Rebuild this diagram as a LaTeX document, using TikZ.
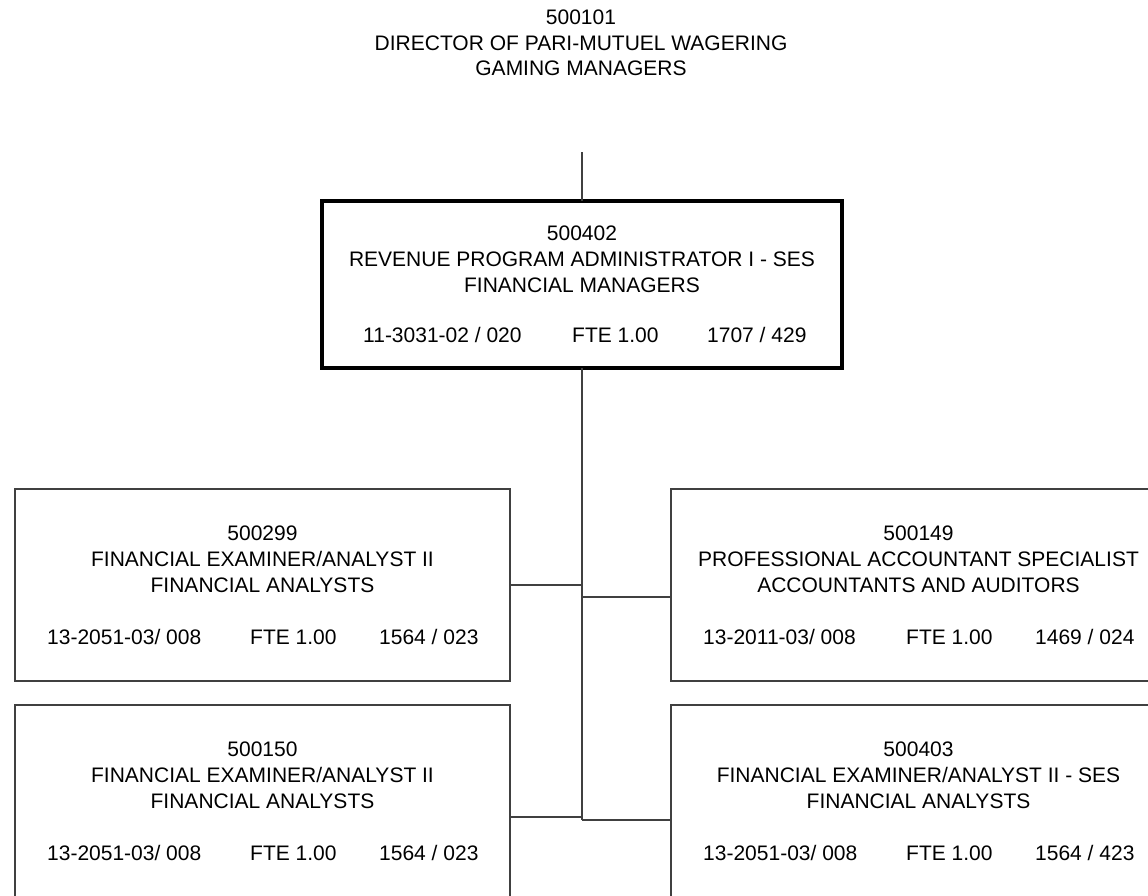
\documentclass[tikz,border=0pt]{standalone}
\usepackage{fontspec}
\setmainfont{Liberation Sans}
\usetikzlibrary{calc}
\tikzset{
  link/.style={draw=black!75, line width=1.3pt},
  posbox/.style={draw=black!75, line width=1.6pt, rectangle, inner sep=0pt, outer sep=0pt, anchor=north west},
  headbox/.style={draw=black, line width=3.5pt, rectangle, inner sep=0pt, outer sep=0pt, anchor=north west},
  txt/.style={font=\fontsize{21}{26}\selectfont, anchor=base, inner sep=0pt},
  tab/.style={txt, anchor=base west},
}
% texts of one subordinate position box
\newcommand\staffinfo[7]{%
  \node[txt] (#1-id) at ($(#1.north)+(0,51.5)$) {#2};
  \node[txt] (#1-title) at ($(#1.north)+(0,77.5)$) {#3};
  \node[txt] (#1-class) at ($(#1.north)+(0,103.5)$) {#4};
  \node[tab] (#1-code) at ($(#1.north west)+(32,155.5)$) {#5};
  \node[tab] (#1-fte) at ($(#1.north west)+(235,155.5)$) {#6};
  \node[tab] (#1-pay) at ($(#1.north west)+(364,155.5)$) {#7};
}
\begin{document}
\begin{tikzpicture}[x=1pt,y=-1pt]
\useasboundingbox (0,0) rectangle (1148,895);
\clip (0,0) rectangle (1148,895);
\fill[white] (0,0) rectangle (1148,895);

% supervisor heading
\node[txt] (sup-id) at (581,24.5) {500101};
\node[txt] (sup-title) at (581,50.5) {DIRECTOR OF PARI-MUTUEL WAGERING};
\node[txt] (sup-class) at (581,75.5) {GAMING MANAGERS};
\coordinate (up) at (582,152);

% head position
\node[headbox, minimum width=520pt, minimum height=167pt] (p402) at (322,201) {};
\node[txt] (p402-id) at ($(p402.north)+(0,39.5)$) {500402};
\node[txt] (p402-title) at ($(p402.north)+(0,65.5)$) {REVENUE PROGRAM ADMINISTRATOR I - SES};
\node[txt] (p402-class) at ($(p402.north)+(0,91.5)$) {FINANCIAL MANAGERS};
\node[tab] (p402-code) at ($(p402.north west)+(41,141.5)$) {11-3031-02 / 020};
\node[tab] (p402-fte) at ($(p402.north west)+(250,141.5)$) {FTE 1.00};
\node[tab] (p402-pay) at ($(p402.north west)+(385,141.5)$) {1707 / 429};

% subordinate positions
\node[posbox, minimum width=495pt, minimum height=192pt] (p299) at (15,489) {};
\staffinfo{p299}{500299}{FINANCIAL EXAMINER/ANALYST II}{FINANCIAL ANALYSTS}{13-2051-03/ 008}{FTE 1.00}{1564 / 023}

\node[posbox, minimum width=495pt, minimum height=192pt] (p149) at (671,489) {};
\staffinfo{p149}{500149}{PROFESSIONAL ACCOUNTANT SPECIALIST}{ACCOUNTANTS AND AUDITORS}{13-2011-03/ 008}{FTE 1.00}{1469 / 024}

\node[posbox, minimum width=495pt, minimum height=192pt] (p150) at (15,705) {};
\staffinfo{p150}{500150}{FINANCIAL EXAMINER/ANALYST II}{FINANCIAL ANALYSTS}{13-2051-03/ 008}{FTE 1.00}{1564 / 023}

\node[posbox, minimum width=495pt, minimum height=192pt] (p403) at (671,705) {};
\staffinfo{p403}{500403}{FINANCIAL EXAMINER/ANALYST II - SES}{FINANCIAL ANALYSTS}{13-2051-03/ 008}{FTE 1.00}{1564 / 423}

% reporting lines
\coordinate (spine) at (582,820);
\coordinate (j149) at (582,597);
\coordinate (j150) at (582,817);
\draw[link] (up) -- (p402.north);
\draw[link] (p402.south) -- (spine);
\draw[link] (p299.east) -- (p299.east -| spine);
\draw[link] (j149) -- (j149 -| p149.west);
\draw[link] (j150 -| p150.east) -- (j150);
\draw[link] (spine) -- (spine -| p403.west);
\end{tikzpicture}
\end{document}
